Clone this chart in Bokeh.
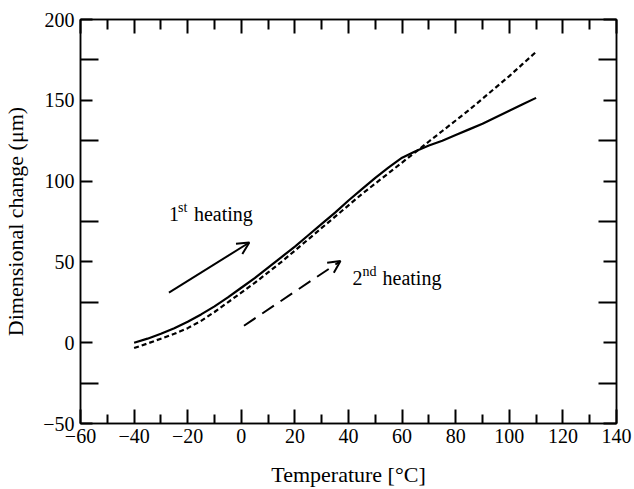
from bokeh.plotting import figure
from bokeh.models import (LinearAxis, Range1d, FixedTicker, Arrow, OpenHead, Label,
                          CustomJSTickFormatter)
from bokeh.embed import file_html
from bokeh.resources import INLINE

temperature = [-40, -35, -30, -25, -20, -15, -10, -5, 0, 5, 10, 15, 20, 25, 30, 35,
               40, 45, 50, 55, 60, 65, 70, 75, 80, 85, 90, 95, 100, 105, 110]
first_heating = [0, 2.5, 5.5, 9, 13, 17.5, 22.5, 28, 34, 40, 46.5, 53, 59.5, 66.5, 73.5, 80.5,
                 88, 95, 102, 108.5, 114.5, 118.5, 122, 125, 128.5, 132, 135.5, 139.5, 143.5, 147.5, 151.5]
second_heating = [-3.3, -0.5, 2.5, 5.5, 9, 13.5, 19, 25, 31, 37, 43.5, 50, 57, 64, 71, 78,
                  85, 92, 98.5, 105, 111.5, 118, 124.5, 131, 137.5, 144, 151, 158, 165, 172.5, 180]

x_major = [-60, -40, -20, 0, 20, 40, 60, 80, 100, 120, 140]
x_minor = [-50, -30, -10, 10, 30, 50, 70, 90, 110, 130]
y_major = [-50, 0, 50, 100, 150, 200]
y_minor = [-25, 25, 75, 125, 175]

FONT = "Liberation Serif"

p = figure(width=634, height=489, output_backend="svg", toolbar_location=None,
           x_range=Range1d(-60, 140), y_range=Range1d(-50, 200),
           min_border_left=78, min_border_right=18, min_border_top=19, min_border_bottom=65,
           x_axis_label="Temperature [°C]", y_axis_label="Dimensional change (μm)")
p.grid.visible = False
p.outline_line_color = "black"
p.outline_line_width = 1.5

fmt = CustomJSTickFormatter(code="return tick < 0 ? '\u2212' + Math.abs(tick) : String(tick);")
blank = CustomJSTickFormatter(code="return '';")

def style(ax, ticker, major_in, minor_in, labels=True):
    ax.ticker = ticker
    ax.axis_line_color = "black"
    ax.axis_line_width = 1.5
    ax.major_tick_line_color = "black"
    ax.minor_tick_line_color = "black"
    ax.major_tick_line_width = 2
    ax.minor_tick_line_width = 2
    ax.major_tick_in = major_in
    ax.major_tick_out = 0
    ax.minor_tick_in = minor_in
    ax.minor_tick_out = 0
    if labels:
        ax.formatter = fmt
        ax.major_label_text_font = FONT
        ax.major_label_text_font_size = "20px"
        ax.major_label_text_color = "black"
        ax.axis_label_text_font = FONT
        ax.axis_label_text_font_size = "22px"
        ax.axis_label_text_font_style = "normal"
        ax.axis_label_text_color = "black"
    else:
        ax.formatter = blank
        ax.major_label_standoff = 0
        ax.axis_label = None

style(p.xaxis[0], FixedTicker(ticks=x_major, minor_ticks=x_minor), 14, 9)
p.xaxis[0].major_label_standoff = 5
p.xaxis[0].axis_label_standoff = 16
style(p.yaxis[0], FixedTicker(ticks=y_major, minor_ticks=y_minor), 12, 18)
p.yaxis[0].major_label_standoff = 6
p.yaxis[0].axis_label_standoff = 12

top = LinearAxis()
style(top, FixedTicker(ticks=x_major, minor_ticks=x_minor), 14, 10, labels=False)
p.add_layout(top, "above")
right = LinearAxis()
style(right, FixedTicker(ticks=y_major, minor_ticks=y_minor), 13, 18, labels=False)
p.add_layout(right, "right")

p.line(temperature, first_heating, line_color="black", line_width=2.2)
p.line(temperature, second_heating, line_color="black", line_width=2.2, line_dash="5 3")

p.add_layout(Arrow(end=OpenHead(size=12, line_width=2, line_color="black"),
                   x_start=-27, y_start=31, x_end=3, y_end=62,
                   line_width=2, line_color="black"))
p.add_layout(Arrow(end=OpenHead(size=12, line_width=2, line_color="black"),
                   x_start=1, y_start=10.5, x_end=37, y_end=50.5,
                   line_width=2, line_color="black", line_dash="14 8"))

def sup_label(x, y, base, sup, sup_off, rest_off):
    p.add_layout(Label(x=x, y=y, text=base, text_font=FONT, text_font_size="20px",
                       text_baseline="alphabetic", text_color="black"))
    p.add_layout(Label(x=x, y=y, x_offset=sup_off, y_offset=7, text=sup, text_font=FONT,
                       text_font_size="14px", text_baseline="alphabetic", text_color="black"))
    p.add_layout(Label(x=x, y=y, x_offset=rest_off, text="heating", text_font=FONT,
                       text_font_size="20px", text_baseline="alphabetic", text_color="black"))

sup_label(-27, 79.5, "1", "st", 9, 25)
sup_label(41.5, 40, "2", "nd", 10, 30)

open("out.html", "w").write(file_html(p, INLINE))
